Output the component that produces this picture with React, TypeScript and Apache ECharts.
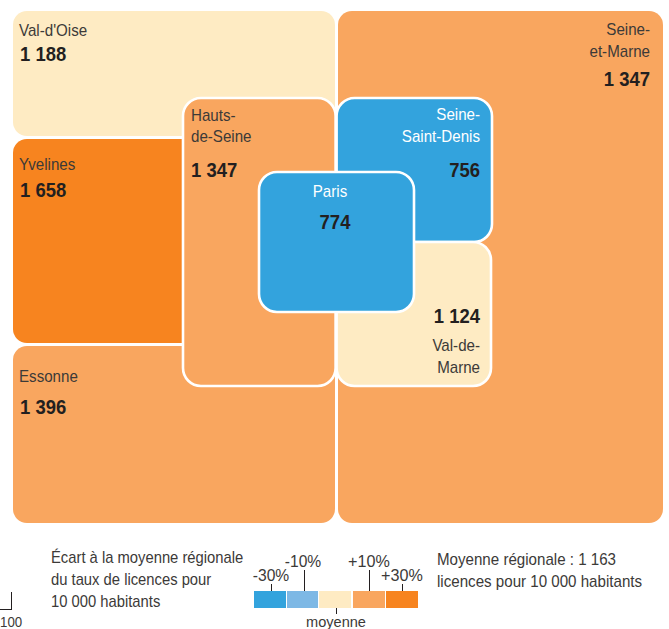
import React, { useEffect, useRef } from "react";
import * as echarts from "echarts";

// ---- data
const departments = ["Val-d'Oise", "Yvelines", "Essonne", "Seine-et-Marne", "Hauts-de-Seine", "Seine-Saint-Denis", "Val-de-Marne", "Paris"];
const licences = ["1 188", "1 658", "1 396", "1 347", "1 347", "756", "1 124", "774"];
const classes = [2, 4, 3, 3, 3, 0, 2, 0];
const nameLines = [["Val-d'Oise"], ["Yvelines"], ["Essonne"], ["Seine-", "et-Marne"], ["Hauts-", "de-Seine"], ["Seine-", "Saint-Denis"], ["Val-de-", "Marne"], ["Paris"]];
const legendLabels = ["-30%", "-10%", "moyenne", "+10%", "+30%"];
const legendTitle = ["Écart à la moyenne régionale", "du taux de licences pour", "10 000 habitants"];
const legendNote = ["Moyenne régionale : 1 163", "licences pour 10 000 habitants"];

// ---- styles and layout
const classColors = ["#33A3DD", "#7DB8E5", "#FEEBC3", "#F9A65F", "#F7841F"];
const FONT = "'Liberation Sans', sans-serif";
const NAME = "#3C3A38";
const VALUE = "#231F20";

type Tile = { b: number[]; r: number; line: boolean; align: string; tx: number; ny: number[]; vy: number; vx?: number };
const tiles: Tile[] = [
  { b: [13, 11, 335, 136], r: 14, line: false, align: "left", tx: 19, ny: [30], vy: 54, vx: 20 },
  { b: [13, 139, 210, 343], r: 14, line: false, align: "left", tx: 19, ny: [164], vy: 190, vx: 20 },
  { b: [13, 346, 335, 523], r: 14, line: false, align: "left", tx: 19, ny: [376], vy: 407, vx: 20 },
  { b: [338, 11, 663, 523], r: 14, line: false, align: "right", tx: 650, ny: [29, 51], vy: 79 },
  { b: [183, 98, 335.6, 386], r: 18, line: true, align: "left", tx: 191, ny: [115, 136], vy: 170 },
  { b: [336.6, 98, 492, 242], r: 18, line: true, align: "right", tx: 480, ny: [114, 136], vy: 170 },
  { b: [336.6, 242, 491, 386], r: 18, line: true, align: "right", tx: 480, ny: [345, 367], vy: 316 },
  { b: [259, 172, 414, 312], r: 18, line: true, align: "center", tx: 330, ny: [191], vy: 222, vx: 335 },
];
const swatches = [[254, 286], [287, 318], [319, 351], [353, 385], [386, 418]];
const swatchY = [591, 608];

const txt = (x: number, y: number, text: string, size: number, fill: string, align = "left", fontWeight = "normal", scaleX = 0.89) => ({
  type: "text" as const,
  x, y, scaleX,
  style: { x: 0, y: 0, text, fill, align, verticalAlign: "middle", font: `${fontWeight} ${size}px ${FONT}` },
});
const seg = (x1: number, y1: number, x2: number, y2: number) => ({
  type: "line" as const,
  shape: { x1, y1, x2, y2 },
  style: { stroke: "#231F20", lineWidth: 1 },
});

export default function App() {
  const ref = useRef<HTMLDivElement>(null);
  useEffect(() => {
    const chart = echarts.init(ref.current!, null, { renderer: "svg" });
    chart.setOption({
      animation: false,
      grid: { left: 0, right: 0, top: 0, bottom: 0 },
      xAxis: { type: "value", min: 0, max: 669, show: false },
      yAxis: { type: "value", min: 0, max: 629, inverse: true, show: false },
      series: [
        {
          type: "custom",
          coordinateSystem: "cartesian2d",
          clip: false,
          data: departments.map((d, i) => ({ name: d, value: [i, parseInt(licences[i].replace(/\s/g, ""), 10)] })),
          renderItem: (params: any, api: any) => {
            const i = params.dataIndex;
            const t = tiles[i];
            const [x0, y0] = api.coord([t.b[0], t.b[1]]);
            const [x1, y1] = api.coord([t.b[2], t.b[3]]);
            const dark = classes[i] === 0;
            const children: any[] = [
              {
                type: "rect",
                shape: { x: x0, y: y0, width: x1 - x0, height: y1 - y0, r: t.r },
                style: { fill: classColors[classes[i]], stroke: t.line ? "#FFFFFF" : null, lineWidth: t.line ? 2.6 : 0 },
              },
            ];
            nameLines[i].forEach((line, k) => {
              children.push(txt(t.tx, t.ny[k], line, 17, dark ? "#FFFFFF" : NAME, t.align));
            });
            children.push(txt(t.vx ?? t.tx, t.vy, licences[i], 20.5, VALUE, t.align, "bold", 0.9));
            return { type: "group", children };
          },
        },
        {
          type: "custom",
          coordinateSystem: "cartesian2d",
          clip: false,
          data: swatches.map((_, i) => [i]),
          renderItem: (params: any, api: any) => {
            const s = swatches[params.dataIndex];
            const [x0, y0] = api.coord([s[0], swatchY[0]]);
            const [x1, y1] = api.coord([s[1], swatchY[1]]);
            return {
              type: "rect",
              shape: { x: x0, y: y0, width: x1 - x0, height: y1 - y0 },
              style: { fill: classColors[params.dataIndex] },
            };
          },
        },
      ],
      graphic: [
        ...legendTitle.map((l, i) => ({ ...txt(51, 557 + i * 22, l, 17, NAME, "left", "normal", 0.87), silent: true })),
        ...legendNote.map((l, i) => ({ ...txt(437, 559 + i * 22, l, 17, NAME, "left", "normal", 0.89), silent: true })),
        txt(271, 575, legendLabels[0], 17, NAME, "center", "normal", 0.92),
        txt(303, 561, legendLabels[1], 17, NAME, "center", "normal", 0.92),
        txt(369, 561, legendLabels[3], 17, NAME, "center", "normal", 0.95),
        txt(402, 575, legendLabels[4], 17, NAME, "center", "normal", 0.95),
        txt(336, 621, legendLabels[2], 15.5, NAME, "center", "normal", 0.94),
        seg(271.5, 584, 271.5, 591),
        seg(304.5, 570, 304.5, 591),
        seg(369.5, 570, 369.5, 591),
        seg(402.5, 584, 402.5, 591),
        seg(336.5, 608, 336.5, 614),
        seg(0, 609.5, 11.5, 609.5),
        seg(11.5, 592, 11.5, 610),
        txt(0, 622, "100", 14, NAME, "left", "normal", 0.95),
      ],
    });
    return () => chart.dispose();
  }, []);
  return <div ref={ref} style={{ position: "absolute", left: 0, top: 0, width: 669, height: 629 }} />;
}
